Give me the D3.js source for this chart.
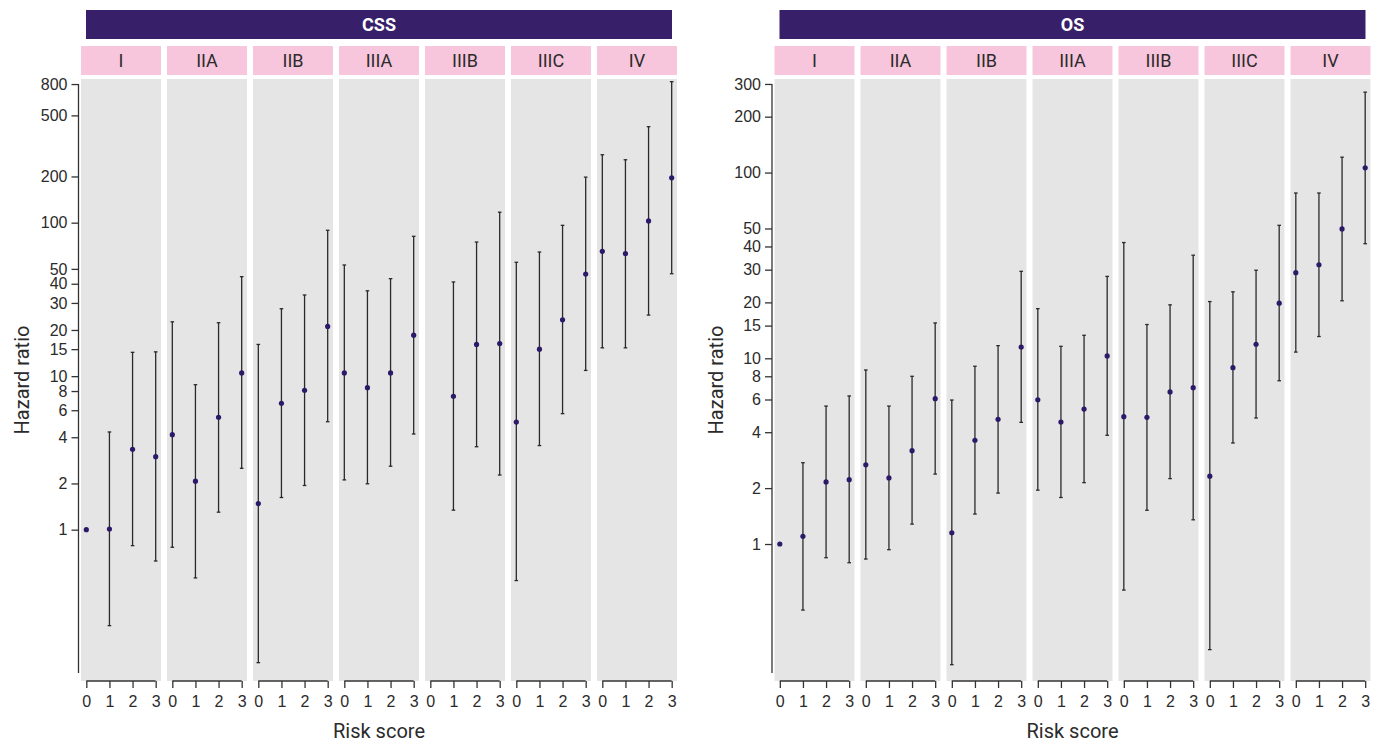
<!DOCTYPE html>
<html>
<head>
<meta charset="utf-8">
<script src="https://cdn.jsdelivr.net/npm/d3@7"></script>
<style>
  body { margin: 0; background: #fff; }
  svg { display: block; }
  .tick-label { font-family: "Liberation Sans", Arial, sans-serif; font-size: 16px; fill: #2b2b2b; }
  .strip-label { font-family: Roboto, "Noto Sans", sans-serif; font-size: 18px; fill: #2b2b2b; }
  .title-label { font-family: Roboto, "Noto Sans", sans-serif; font-size: 18px; font-weight: bold; fill: #fff; }
  .axis-title { font-family: Roboto, "Noto Sans", sans-serif; font-size: 20px; fill: #2b2b2b; }
</style>
</head>
<body>
<svg id="chart" width="1382" height="744"></svg>
<script>
// stages and risk scores
const stages = ['I', 'IIA', 'IIB', 'IIIA', 'IIIB', 'IIIC', 'IV']
const riskScores = [0, 1, 2, 3]

// CSS hazard ratios, one row per stage, one value per risk score (null = not shown)
const cssHR = [
  [1, 1.01, 3.34, 2.99],
  [4.16, 2.07, 5.4, 10.5],
  [1.48, 6.66, 8.09, 21.1],
  [10.5, 8.42, 10.5, 18.5],
  [null, 7.4, 16.1, 16.3],
  [5.03, 15.0, 23.3, 46.3],
  [65.1, 62.8, 102.6, 196]
]
const cssLower = [
  [null, 0.237, 0.787, 0.625],
  [0.768, 0.485, 1.30, 2.51],
  [0.136, 1.62, 1.94, 5.05],
  [2.11, 1.99, 2.59, 4.2],
  [null, 1.34, 3.47, 2.27],
  [0.466, 3.53, 5.7, 10.9],
  [15.3, 15.3, 25.0, 46.5]
]
const cssUpper = [
  [null, 4.33, 14.3, 14.4],
  [22.6, 8.8, 22.3, 44.5],
  [16.1, 27.5, 33.8, 89.2],
  [53, 36, 43.2, 81.5],
  [null, 41.1, 74.8, 117],
  [55.2, 64.4, 96.1, 198],
  [277, 257, 422, 829]
]

// OS hazard ratios
const osHR = [
  [1, 1.10, 2.16, 2.22],
  [2.67, 2.27, 3.18, 6.06],
  [1.15, 3.62, 4.69, 11.5],
  [5.98, 4.54, 5.33, 10.3],
  [4.85, 4.81, 6.59, 6.95],
  [2.32, 8.9, 11.9, 19.8],
  [28.9, 31.9, 49.7, 106]
]
const osLower = [
  [null, 0.441, 0.844, 0.793],
  [0.83, 0.932, 1.28, 2.38],
  [0.224, 1.45, 1.88, 4.52],
  [1.95, 1.78, 2.14, 3.85],
  [0.565, 1.52, 2.25, 1.35],
  [0.27, 3.5, 4.77, 7.57],
  [10.8, 13.1, 20.4, 41.4]
]
const osUpper = [
  [null, 2.74, 5.53, 6.27],
  [8.65, 5.53, 8.0, 15.5],
  [5.96, 9.06, 11.7, 29.4],
  [18.5, 11.6, 13.3, 27.6],
  [42, 15.2, 19.4, 35.9],
  [20.2, 22.8, 29.8, 52],
  [77.6, 77.6, 121, 271]
]

// y tick values
const cssTicks = [1, 2, 4, 6, 8, 10, 15, 20, 30, 40, 50, 100, 200, 500, 800]
const osTicks = [1, 2, 4, 6, 8, 10, 15, 20, 30, 40, 50, 100, 200, 300]

const svg = d3.select('#chart')

const panelTop = 79
const panelBottom = 681
const panelW = 80
const panelStep = 86

const drawChart = (opts) => {
  const { left, title, hr, lower, upper, ticks, yDomain } = opts
  const g = svg.append('g')

  const y = d3.scaleLog().domain(yDomain).range([panelBottom, panelTop])
  const x = d3.scaleLinear().domain([-0.23, 3.23]).range([0, panelW])
  const px = d3.scaleBand().domain(stages).range([left, left + panelStep * stages.length]).paddingInner(0)

  // title strip
  const chartRight = left + panelStep * (stages.length - 1) + panelW
  g.append('rect')
    .attr('x', left + 5)
    .attr('y', 10)
    .attr('width', chartRight - left - 10)
    .attr('height', 29)
    .attr('fill', '#371f6a')
  g.append('text')
    .attr('class', 'title-label')
    .attr('x', (left + chartRight) / 2)
    .attr('y', 31)
    .attr('text-anchor', 'middle')
    .text(title)

  stages.forEach((stage, si) => {
    const p = g.append('g')
      .attr('transform', `translate(${px(stage)}, 0)`)

    // stage strip
    p.append('rect')
      .attr('x', 0).attr('y', 46)
      .attr('width', panelW).attr('height', 29)
      .attr('fill', '#f7c5dc')
    p.append('text')
      .attr('class', 'strip-label')
      .attr('x', panelW / 2)
      .attr('y', 67)
      .attr('text-anchor', 'middle')
      .text(stage)

    // panel background
    p.append('rect')
      .attr('x', 0).attr('y', panelTop)
      .attr('width', panelW).attr('height', panelBottom - panelTop)
      .attr('fill', '#e5e5e5')

    const rows = riskScores.map((r, i) => ({
      r, hr: hr[si][i], lo: lower[si][i], hi: upper[si][i]
    }))

    // error bars
    const bars = rows.filter(d => d.lo != null && d.hi != null)
    p.selectAll('line.err')
      .data(bars)
      .enter().append('line')
      .attr('class', 'err')
      .attr('x1', d => x(d.r)).attr('x2', d => x(d.r))
      .attr('y1', d => y(d.lo)).attr('y2', d => y(d.hi))
      .attr('stroke', '#2a2a2a')
      .attr('stroke-width', 1.3)
    p.selectAll('line.cap-hi')
      .data(bars)
      .enter().append('line')
      .attr('class', 'cap-hi')
      .attr('x1', d => x(d.r) - 1.8).attr('x2', d => x(d.r) + 1.8)
      .attr('y1', d => y(d.hi)).attr('y2', d => y(d.hi))
      .attr('stroke', '#2a2a2a')
      .attr('stroke-width', 1.3)
    p.selectAll('line.cap-lo')
      .data(bars)
      .enter().append('line')
      .attr('class', 'cap-lo')
      .attr('x1', d => x(d.r) - 1.8).attr('x2', d => x(d.r) + 1.8)
      .attr('y1', d => y(d.lo)).attr('y2', d => y(d.lo))
      .attr('stroke', '#2a2a2a')
      .attr('stroke-width', 1.3)

    // points
    p.selectAll('circle')
      .data(rows.filter(d => d.hr != null))
      .enter().append('circle')
      .attr('cx', d => x(d.r))
      .attr('cy', d => y(d.hr))
      .attr('r', 2.6)
      .attr('fill', '#2c1a68')

    // x axis per panel
    const xAxis = d3.axisBottom(x)
      .tickValues(riskScores)
      .tickSize(7)
      .tickSizeOuter(0)
      .tickFormat(d3.format('d'))
    const xg = p.append('g')
      .attr('transform', `translate(0, ${panelBottom})`)
      .call(xAxis)
    xg.select('.domain')
      .attr('d', `M${x(0)},0H${x(3)}`)
      .attr('stroke', '#333')
      .attr('stroke-width', 1.3)
    xg.selectAll('.tick line').attr('stroke', '#333').attr('stroke-width', 1.3)
    xg.selectAll('.tick text')
      .attr('class', 'tick-label')
      .attr('y', 15)
      .attr('font-size', null)
      .attr('font-family', null)
  })

  // y axis
  const axisX = left - 2.5
  const yAxis = d3.axisLeft(y)
    .tickValues(ticks)
    .tickSize(7)
    .tickSizeOuter(0)
    .tickFormat(d3.format('d'))
  const yg = g.append('g')
    .attr('transform', `translate(${axisX}, 0)`)
    .call(yAxis)
  yg.select('.domain')
    .attr('d', `M0,${y(ticks[ticks.length - 1])}V${panelBottom - 8}`)
    .attr('stroke', '#333')
    .attr('stroke-width', 1.3)
  yg.selectAll('.tick line').attr('stroke', '#333').attr('stroke-width', 1.3)
  yg.selectAll('.tick text')
    .attr('class', 'tick-label')
    .attr('x', -11)
    .attr('font-size', null)
    .attr('font-family', null)

  // axis titles
  g.append('text')
    .attr('class', 'axis-title')
    .attr('transform', `translate(${left - 52}, ${(panelTop + panelBottom) / 2}) rotate(-90)`)
    .attr('text-anchor', 'middle')
    .text('Hazard ratio')
  g.append('text')
    .attr('class', 'axis-title')
    .attr('x', (left + chartRight) / 2)
    .attr('y', 738)
    .attr('text-anchor', 'middle')
    .text('Risk score')
}

drawChart({
  left: 81, title: 'CSS', hr: cssHR, lower: cssLower, upper: cssUpper,
  ticks: cssTicks, yDomain: [0.1033, 863]
})
drawChart({
  left: 774.5, title: 'OS', hr: osHR, lower: osLower, upper: osUpper,
  ticks: osTicks, yDomain: [0.183, 319]
})
</script>
</body>
</html>
